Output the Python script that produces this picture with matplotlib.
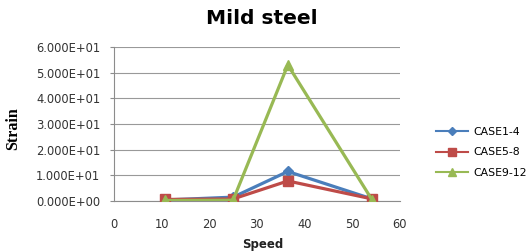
import matplotlib
matplotlib.use("Agg")
import matplotlib.pyplot as plt
from matplotlib.ticker import FuncFormatter
from matplotlib.lines import Line2D

speed = [10.8, 25.0, 36.5, 54.2]
case1_4 = [0.4, 1.5, 11.5, 0.8]
case5_8 = [0.6, 0.8, 7.8, 0.8]
case9_12 = [0.2, 0.3, 53.0, 0.4]
series_names = ["CASE1-4", "CASE5-8", "CASE9-12"]
colors = ["#4A7EBB", "#BE4B48", "#98B954"]
markers = ["D", "s", "^"]
msizes = [5, 7, 7]

fig = plt.figure(figsize=(5.26, 2.52), dpi=100)
ax = fig.add_axes([0.2167, 0.2024, 0.5433, 0.6111])

for ys, c, m, ms, name in zip([case1_4, case5_8, case9_12], colors, markers, msizes, series_names):
    ax.plot(speed, ys, color=c, lw=2.3, marker=m, ms=ms, label=name, zorder=3)

ax.set_xlim(0, 60)
ax.set_ylim(0, 60)
ax.set_xticks(range(0, 61, 10))
ax.set_yticks(range(0, 61, 10))
ax.yaxis.set_major_formatter(FuncFormatter(lambda v, p: f"{v:.3E}"))
ax.grid(axis="y", color="#999999", lw=0.8)
ax.set_axisbelow(True)
for s in ["top", "right"]:
    ax.spines[s].set_visible(False)
for s in ["left", "bottom"]:
    ax.spines[s].set_color("#8c8c8c")
    ax.spines[s].set_linewidth(0.8)
ax.tick_params(axis="y", length=3, color="#8c8c8c", labelsize=8.3, labelcolor="#333333", pad=7)
ax.tick_params(axis="x", length=0, labelsize=8.3, labelcolor="#333333", pad=12)

fig.text(0.498, 0.925, "Mild steel", ha="center", va="center", fontsize=14.5, fontweight="bold")
fig.text(0.5, 0.03, "Speed", ha="center", va="center", fontsize=8.5, fontweight="bold", color="#222222")
fig.text(0.026, 0.49, "Strain", ha="center", va="center", rotation=90, fontsize=11.5,
         fontweight="bold", family="Liberation Serif")

handles = [Line2D([0], [0], color=c, lw=1.5, marker=m, ms=ms * 0.8) for c, m, ms in zip(colors, markers, msizes)]
fig.legend(handles, series_names, loc="center left", bbox_to_anchor=(0.81, 0.395),
           frameon=False, fontsize=7.8, handlelength=3.0, labelspacing=0.95, handletextpad=0.5)

fig.savefig("out.png", dpi=100)
